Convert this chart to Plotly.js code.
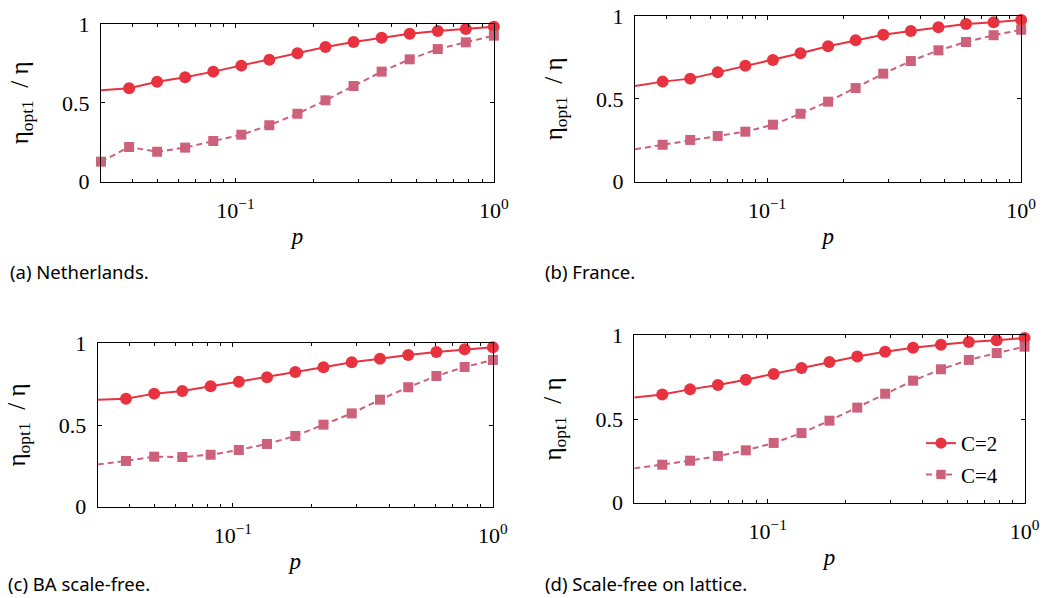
<!DOCTYPE html>
<html>
<head>
<meta charset="utf-8">
<script src="https://cdn.plot.ly/plotly-3.0.1.min.js"></script>
<style>html,body{margin:0;padding:0;background:#fff;}#chart{width:1048px;height:598px;}</style>
</head>
<body>
<div id="chart"></div>
<script>
// Connection probability p (log scale)
const p = [0.0302, 0.0388, 0.0498, 0.0639, 0.0821, 0.1054, 0.1353, 0.1738, 0.2231, 0.2865, 0.3679, 0.4724, 0.6065, 0.7788, 1.0];

// (a) Netherlands
const netherlandsC2 = [0.580, 0.592, 0.634, 0.662, 0.698, 0.736, 0.774, 0.814, 0.854, 0.886, 0.913, 0.938, 0.956, 0.968, 0.983];
const netherlandsC4 = [0.127, 0.220, 0.190, 0.216, 0.258, 0.298, 0.358, 0.431, 0.516, 0.607, 0.698, 0.776, 0.841, 0.884, 0.926];
// (b) France
const franceC2 = [0.578, 0.604, 0.622, 0.660, 0.700, 0.734, 0.775, 0.817, 0.853, 0.887, 0.910, 0.932, 0.952, 0.962, 0.976];
const franceC4 = [0.196, 0.223, 0.252, 0.276, 0.302, 0.344, 0.410, 0.483, 0.565, 0.652, 0.728, 0.793, 0.843, 0.884, 0.917];
// (c) BA scale-free
const baC2 = [0.655, 0.661, 0.692, 0.708, 0.737, 0.765, 0.792, 0.824, 0.853, 0.884, 0.906, 0.929, 0.947, 0.963, 0.976];
const baC4 = [0.259, 0.280, 0.306, 0.304, 0.318, 0.347, 0.384, 0.433, 0.502, 0.571, 0.655, 0.731, 0.800, 0.855, 0.898];
// (d) Scale-free on lattice
const latticeC2 = [0.629, 0.647, 0.677, 0.703, 0.735, 0.769, 0.805, 0.841, 0.873, 0.902, 0.926, 0.944, 0.960, 0.970, 0.984];
const latticeC4 = [0.205, 0.227, 0.251, 0.279, 0.313, 0.357, 0.416, 0.490, 0.568, 0.651, 0.729, 0.797, 0.853, 0.894, 0.932];

const seriesNames = ['C=2', 'C=4'];
const captions = ['(a) Netherlands.', '(b) France.', '(c) BA scale-free.', '(d) Scale-free on lattice.'];
const xTickVals = [0.1, 1];
const xTickText = ['10<sup>\u22121</sup>', '10<sup>0</sup>'];
const yTickVals = [0, 0.5, 1];
const yTickText = ['0', '0.5', '1'];
const minorVals = [0.04, 0.05, 0.06, 0.07, 0.08, 0.09, 0.2, 0.3, 0.4, 0.5, 0.6, 0.7, 0.8, 0.9];

const panels = [
  {c2: netherlandsC2, c4: netherlandsC4, edgeC4: true},
  {c2: franceC2, c4: franceC4, edgeC4: false},
  {c2: baC2, c4: baC4, edgeC4: false},
  {c2: latticeC2, c4: latticeC4, edgeC4: false}
];

// layout geometry in pixels: [left, right, top, bottom]
const W = 1048, H = 598;
const boxes = [
  [101, 494, 24, 181.7],
  [635, 1021.3, 16, 181.7],
  [97.7, 493, 343.3, 506.7],
  [634.3, 1024.7, 335.3, 502.7]
];
const captionPos = [[8, 271], [543, 271], [6, 583], [543, 583]];

const RED = '#E8323F';
const PINK = '#CD617B';
const serif = 'Liberation Serif, Times New Roman, serif';

const data = [];
const layout = {
  width: W, height: H,
  margin: {l: 0, r: 0, t: 0, b: 0},
  paper_bgcolor: '#fff', plot_bgcolor: '#fff',
  font: {family: serif, color: '#000', size: 20},
  showlegend: true,
  legend: {
    x: 921 / W, y: 1 - 423 / H, xanchor: 'left', yanchor: 'top',
    bgcolor: 'rgba(0,0,0,0)', borderwidth: 0,
    font: {family: 'Liberation Serif', size: 21, color: '#000'},
    tracegroupgap: 1
  },
  annotations: []
};

panels.forEach((pn, i) => {
  const n = i + 1;
  const xa = 'x' + (n === 1 ? '' : n), ya = 'y' + (n === 1 ? '' : n);
  const xk = 'xaxis' + (n === 1 ? '' : n), yk = 'yaxis' + (n === 1 ? '' : n);
  const b = boxes[i];
  const isLegend = (i === 3);
  const c2Sizes = p.map((v, j) => j === 0 ? 0 : 12);
  const c4Sizes = p.map((v, j) => (j === 0 && !pn.edgeC4) ? 0 : 10);
  data.push({
    x: p, y: pn.c2, xaxis: xa, yaxis: ya, type: 'scatter', mode: 'lines+markers',
    name: seriesNames[0], showlegend: isLegend, legendgroup: 'g2',
    line: {color: RED, width: 2},
    marker: {symbol: 'circle', size: c2Sizes, color: RED, opacity: 1, line: {width: 0}},
    cliponaxis: false
  });
  data.push({
    x: p, y: pn.c4, xaxis: xa, yaxis: ya, type: 'scatter', mode: 'lines+markers',
    name: seriesNames[1], showlegend: isLegend, legendgroup: 'g4',
    line: {color: PINK, width: 2, dash: '6px,4px'},
    marker: {symbol: 'square', size: c4Sizes, color: PINK, opacity: 1, line: {width: 0}},
    cliponaxis: false
  });
  layout[xk] = {
    domain: [b[0] / W, b[1] / W], anchor: ya,
    type: 'log', range: [Math.log10(0.0302), 0.0005],
    tickmode: 'array', tickvals: xTickVals, ticktext: xTickText,
    ticks: 'inside', ticklen: 4, tickwidth: 1, tickcolor: '#000',
    minor: {tickmode: 'array', tickvals: minorVals, ticks: 'inside', ticklen: 3, tickwidth: 1, tickcolor: '#000', showgrid: false},
    showline: true, linecolor: '#000', linewidth: 1, mirror: 'ticks',
    showgrid: false, zeroline: false,
    ticklabelstandoff: 9,
    tickfont: {family: serif, size: 22, color: '#000'},
    title: {text: '<i>p</i>', font: {family: serif, size: 23, color: '#000'}, standoff: 5}
  };
  layout[yk] = {
    domain: [1 - b[3] / H, 1 - b[2] / H], anchor: xa,
    range: [0, 1],
    tickmode: 'array', tickvals: yTickVals, ticktext: yTickText,
    ticks: 'inside', ticklen: 4, tickwidth: 1, tickcolor: '#000',
    showline: true, linecolor: '#000', linewidth: 1, mirror: 'ticks',
    showgrid: false, zeroline: false,
    ticklabelstandoff: 6,
    tickfont: {family: serif, size: 22, color: '#000'},
    title: {text: '\u03b7<sub>opt1</sub>\u00a0\u00a0/\u00a0\u03b7', font: {family: serif, size: 25, color: '#000'}, standoff: 26}
  };
  layout.annotations.push({
    xref: 'paper', yref: 'paper',
    x: captionPos[i][0] / W, y: 1 - captionPos[i][1] / H,
    xanchor: 'left', yanchor: 'middle', showarrow: false,
    text: captions[i],
    font: {family: 'Noto Sans, sans-serif', size: 18.5, color: '#000'}
  });
});

Plotly.newPlot('chart', data, layout, {displayModeBar: false, staticPlot: true});
</script>
</body>
</html>
